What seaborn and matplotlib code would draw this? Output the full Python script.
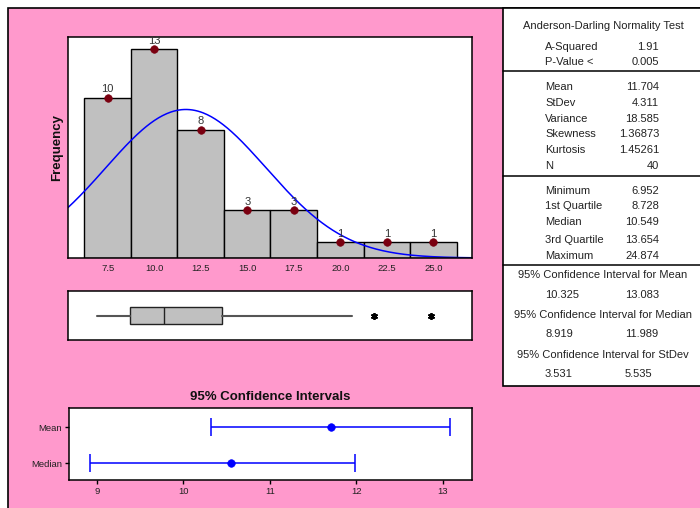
import numpy as np
import pandas as pd
import matplotlib
matplotlib.use("Agg")
import matplotlib.pyplot as plt
from matplotlib.patches import Rectangle
import seaborn as sns

# ---------------- data ----------------
bin_centers = [7.5, 10.0, 12.5, 15.0, 17.5, 20.0, 22.5, 25.0]
bin_counts = [10, 13, 8, 3, 3, 1, 1, 1]
bin_width = 2.5
x_ticks = [7.5, 10.0, 12.5, 15.0, 17.5, 20.0, 22.5, 25.0]

mean_val = 11.704
stdev_val = 4.311
n_obs = 40

box_min = 6.952
box_q1 = 8.728
box_median = 10.549
box_q3 = 13.654
box_whisker_hi = 20.62
box_outliers = [21.8, 24.874]

ci_labels = ["Mean", "Median"]
ci_centers = [11.704, 10.549]
ci_low = [10.325, 8.919]
ci_high = [13.083, 11.989]
ci_ticks = [9, 10, 11, 12, 13]

table_sections = [
    [("A-Squared", "1.91"), ("P-Value <", "0.005")],
    [("Mean", "11.704"), ("StDev", "4.311"), ("Variance", "18.585"),
     ("Skewness", "1.36873"), ("Kurtosis", "1.45261"), ("N", "40")],
    [("Minimum", "6.952"), ("1st Quartile", "8.728"), ("Median", "10.549"),
     ("3rd Quartile", "13.654"), ("Maximum", "24.874")],
]
ci_table = [
    ("95% Confidence Interval for Mean", "10.325", "13.083"),
    ("95% Confidence Interval for Median", "8.919", "11.989"),
    ("95% Confidence Interval for StDev", "3.531", "5.535"),
]

# ---------------- style ----------------
sns.set_theme(style="white")
plt.rcParams['font.family'] = ['Liberation Sans', 'DejaVu Sans']

W, H = 700, 508
fig = plt.figure(figsize=(W / 100, H / 100), dpi=100)
fig.patch.set_facecolor("white")

def fx(px):
    return px / W

def fy(py):
    return 1 - py / H

PINK = "#FF99CC"
TXT = "#222222"

# pink background panel
fig.patches.append(Rectangle((fx(8), fy(510)), fx(700) - fx(8) + 0.01, fy(8) - fy(510),
                             transform=fig.transFigure, facecolor=PINK,
                             edgecolor="black", lw=1.2, zorder=-3))
# white stats table panel
fig.patches.append(Rectangle((fx(503), fy(386)), fx(702) - fx(503), fy(8) - fy(386),
                             transform=fig.transFigure, facecolor="white",
                             edgecolor="black", lw=1.2, zorder=-2))

def axes_px(l, t, r, b):
    return fig.add_axes([fx(l), fy(b), fx(r) - fx(l), fy(t) - fy(b)])

# ---------------- histogram ----------------
ax = axes_px(68, 37, 472, 258)
lo_edge = bin_centers[0] - bin_width / 2
hi_edge = bin_centers[-1] + bin_width / 2
hist_df = pd.DataFrame({"x": bin_centers, "w": bin_counts})
sns.histplot(data=hist_df, x="x", weights="w", binwidth=bin_width,
             binrange=(lo_edge, hi_edge), ax=ax,
             color="#C0C0C0", alpha=1, edgecolor="black", linewidth=1.0)
xs = np.linspace(5.37, 27.08, 300)
ys = n_obs * bin_width / (stdev_val * np.sqrt(2 * np.pi)) * np.exp(-0.5 * ((xs - mean_val) / stdev_val) ** 2)
sns.lineplot(x=xs, y=ys, ax=ax, color="#0000FF", lw=1.1)
sns.scatterplot(x=bin_centers, y=bin_counts, ax=ax, color="#7A0010", s=30,
                edgecolor="#7A0010", zorder=5)
for c, n in zip(bin_centers, bin_counts):
    ax.text(c, n + 0.2, str(n), ha="center", va="bottom", fontsize=8, color="#333333")
ax.set_xlim(5.37, 27.08)
ax.set_ylim(0, 13.77)
ax.set_xticks(x_ticks)
ax.set_xticklabels([f"{t:.1f}" for t in x_ticks], fontsize=6.8, color=TXT)
ax.set_yticks([])
ax.set_xlabel("")
ax.set_ylabel("")
ax.tick_params(axis="x", length=0, pad=4)
for s in ax.spines.values():
    s.set_color("black"); s.set_linewidth(1.1)
fig.text(fx(57), fy(148), "Frequency", rotation=90, ha="center", va="center",
         fontsize=9.5, fontweight="bold", color="#111111")

# ---------------- boxplot ----------------
axb = axes_px(68, 291, 472, 340)
stats = [dict(med=box_median, q1=box_q1, q3=box_q3, whislo=box_min,
              whishi=box_whisker_hi, fliers=box_outliers)]
axb.bxp(stats, orientation="horizontal", positions=[0], widths=0.7, showcaps=False,
        patch_artist=True,
        boxprops=dict(facecolor="#C0C0C0", edgecolor="#222222", lw=1.0),
        medianprops=dict(color="#222222", lw=1.0),
        whiskerprops=dict(color="#555555", lw=1.5),
        flierprops=dict(marker=(6, 2, 0), markersize=5, markeredgecolor="black",
                        markeredgewidth=1.3))
axb.set_xlim(5.37, 27.08)
axb.set_ylim(-1, 1)
axb.set_xticks([]); axb.set_yticks([])
axb.set_facecolor("white")
for s in axb.spines.values():
    s.set_color("black"); s.set_linewidth(1.1)

# ---------------- confidence intervals ----------------
axc = axes_px(69, 408, 472, 480)
ypos = list(range(len(ci_labels)))
xerr = [np.array(ci_centers) - np.array(ci_low), np.array(ci_high) - np.array(ci_centers)]
axc.errorbar(ci_centers, ypos, xerr=xerr, fmt="none", ecolor="#0000FF", elinewidth=1.1,
             capsize=6.5, capthick=1.1)
sns.scatterplot(x=ci_centers, y=ypos, ax=axc, color="#0000FF", s=30, edgecolor="#0000FF",
                zorder=5)
axc.set_xlim(8.68, 13.335)
axc.set_ylim(1.46, -0.53)
axc.set_yticks(ypos)
axc.set_yticklabels(ci_labels, fontsize=6.8, color=TXT)
axc.set_xticks(ci_ticks)
axc.set_xticklabels([str(t) for t in ci_ticks], fontsize=6.8, color=TXT)
axc.tick_params(axis="both", length=3, width=1, color="black", direction="out",
                bottom=True, left=True, pad=2)
axc.set_facecolor("white")
for s in axc.spines.values():
    s.set_color("black"); s.set_linewidth(1.1)
fig.text(fx(270), fy(397), "95% Confidence Intervals", ha="center", va="center",
         fontsize=9.5, fontweight="bold", color="#111111")

# ---------------- stats table ----------------
FS = 8
LX, VX = 545, 659
fig.text(fx(603), fy(26), "Anderson-Darling Normality Test", ha="center", va="center",
         fontsize=FS, color=TXT)
row_y = [[46.5, 62], [87, 103, 119, 134, 150, 166], [191, 206, 222, 240, 256]]
for sec, ys_ in zip(table_sections, row_y):
    for (lab, val), yy in zip(sec, ys_):
        fig.text(fx(LX), fy(yy), lab, ha="left", va="center", fontsize=FS, color=TXT)
        fig.text(fx(VX), fy(yy), val, ha="right", va="center", fontsize=FS, color=TXT)
for yline in [71, 176, 265]:
    fig.add_artist(plt.Line2D([fx(503), 1], [fy(yline), fy(yline)], color="black", lw=1.1,
                              transform=fig.transFigure))
ci_y = [(275, 295), (315, 334), (355, 374)]
for (title, lo, hi), (ty, vy) in zip(ci_table, ci_y):
    fig.text(fx(603), fy(ty), title, ha="center", va="center", fontsize=FS, color=TXT)
    fig.text(fx(545), fy(vy), lo, ha="left", va="center", fontsize=FS, color=TXT)
    fig.text(fx(625), fy(vy), hi, ha="left", va="center", fontsize=FS, color=TXT)

fig.savefig("out.png", dpi=100)
